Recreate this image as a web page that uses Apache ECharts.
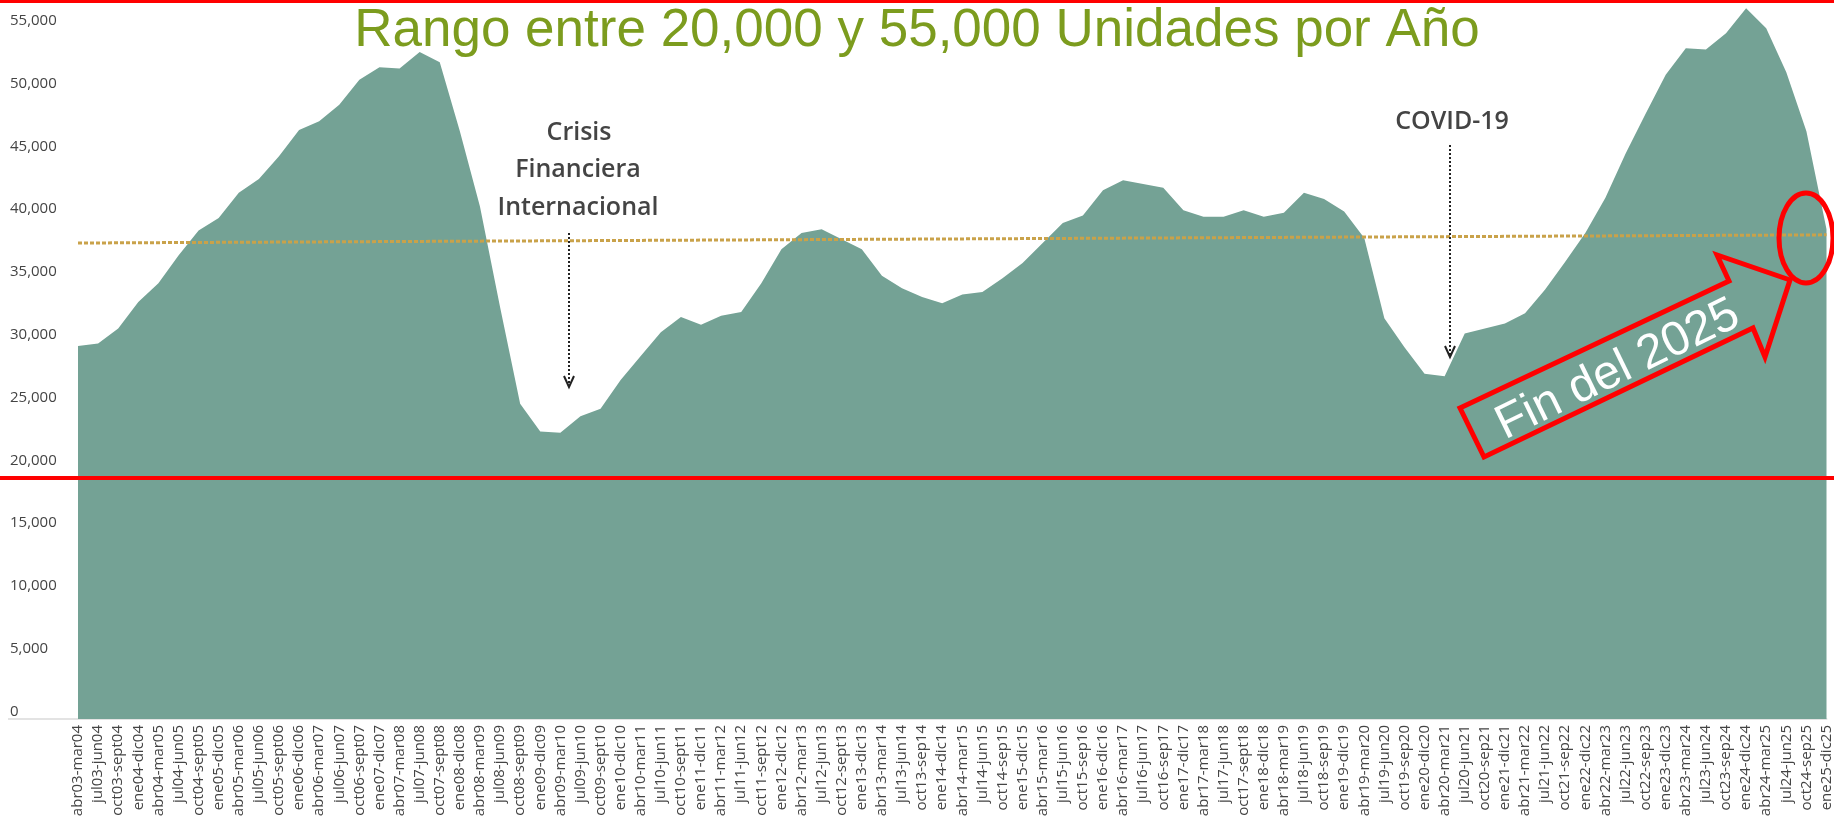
<!DOCTYPE html>
<html>
<head>
<meta charset="utf-8">
<script src="https://cdn.jsdelivr.net/npm/echarts@6/dist/echarts.min.js"></script>
<style>
  html, body { margin: 0; padding: 0; background: #fff; }
  .chart { width: 1834px; height: 829px; }
</style>
</head>
<body>
<div class="chart"></div>
<script>
// periodos móviles de 12 meses (uno por trimestre)
const categories = [
  'abr03-mar04', 'jul03-jun04', 'oct03-sept04', 'ene04-dic04',
  'abr04-mar05', 'jul04-jun05', 'oct04-sept05', 'ene05-dic05',
  'abr05-mar06', 'jul05-jun06', 'oct05-sept06', 'ene06-dic06',
  'abr06-mar07', 'jul06-jun07', 'oct06-sept07', 'ene07-dic07',
  'abr07-mar08', 'jul07-jun08', 'oct07-sept08', 'ene08-dic08',
  'abr08-mar09', 'jul08-jun09', 'oct08-sept09', 'ene09-dic09',
  'abr09-mar10', 'jul09-jun10', 'oct09-sept10', 'ene10-dic10',
  'abr10-mar11', 'jul10-jun11', 'oct10-sept11', 'ene11-dic11',
  'abr11-mar12', 'jul11-jun12', 'oct11-sept12', 'ene12-dic12',
  'abr12-mar13', 'jul12-jun13', 'oct12-sept13', 'ene13-dic13',
  'abr13-mar14', 'jul13-jun14', 'oct13-sep14', 'ene14-dic14',
  'abr14-mar15', 'jul14-jun15', 'oct14-sep15', 'ene15-dic15',
  'abr15-mar16', 'jul15-jun16', 'oct15-sep16', 'ene16-dic16',
  'abr16-mar17', 'jul16-jun17', 'oct16-sep17', 'ene17-dic17',
  'abr17-mar18', 'jul17-jun18', 'oct17-sept18', 'ene18-dic18',
  'abr18-mar19', 'jul18-jun19', 'oct18-sep19', 'ene19-dic19',
  'abr19-mar20', 'jul19-jun20', 'oct19-sep20', 'ene20-dic20',
  'abr20-mar21', 'jul20-jun21', 'oct20-sep21', 'ene21-dic21',
  'abr21-mar22', 'jul21-jun22', 'oct21-sep22', 'ene22-dic22',
  'abr22-mar23', 'jul22-jun23', 'oct22-sep23', 'ene23-dic23',
  'abr23-mar24', 'jul23-jun24', 'oct23-sep24', 'ene24-dic24',
  'abr24-mar25', 'jul24-jun25', 'oct24-sep25', 'ene25-dic25'
];

// unidades vendidas en los últimos 12 meses
const units = [
  29700, 29900, 31100, 33200, 34700, 36900, 38900, 39900,
  41900, 43000, 44800, 46900, 47600, 48900, 50900, 51900,
  51800, 53100, 52300, 46800, 40800, 32800, 25100, 22900,
  22800, 24100, 24700, 27000, 28900, 30800, 32000, 31400,
  32100, 32400, 34700, 37400, 38700, 39000, 38200, 37400,
  35300, 34300, 33600, 33100, 33800, 34000, 35100, 36300,
  37900, 39500, 40100, 42100, 42900, 42600, 42300, 40500,
  40000, 40000, 40500, 40000, 40300, 41900, 41400, 40400,
  38300, 31900, 29600, 27500, 27300, 30700, 31100, 31500,
  32300, 34200, 36400, 38700, 41500, 45000, 48200, 51300,
  53400, 53300, 54600, 56600, 55000, 51500, 46800, 39000
];

// línea de tendencia (inicio y fin)
const trendLine = [37900, 38550];

// eje Y
const yMin = 0;
const yMax = 57250;
const yInterval = 5000;

(function () {
    let myChart = echarts.init(document.querySelector('.chart'));
    const DEG = Math.PI / 180;
    const noteFont = '600 25px "Open Sans"';

    let option = {
        animation: false,
        grid: {
            left: 78,
            right: 3,
            top: 0,
            bottom: 110
        },
        xAxis: {
            type: 'category',
            data: categories,
            boundaryGap: false,
            axisTick: { show: false },
            axisLine: {
                lineStyle: { color: '#e3e3e3', width: 2 }
            },
            axisLabel: {
                interval: 0,
                rotate: 90,
                margin: 6,
                color: '#444',
                fontFamily: 'Open Sans',
                fontWeight: 500,
                fontSize: 15
            }
        },
        yAxis: {
            type: 'value',
            min: yMin,
            max: yMax,
            interval: yInterval,
            splitLine: { show: false },
            axisLine: { show: false },
            axisTick: { show: false },
            axisLabel: {
                showMaxLabel: false,
                align: 'left',
                verticalAlign: 'bottom',
                margin: 68,
                color: '#444',
                fontFamily: 'Open Sans',
                fontWeight: 500,
                fontSize: 15,
                formatter: function (v) {
                    return v.toLocaleString('en-US');
                }
            }
        },
        series: [{
            type: 'line',
            data: units,
            showSymbol: false,
            lineStyle: { width: 0 },
            areaStyle: { color: '#74a295', opacity: 1 },
            markLine: {
                silent: true,
                symbol: 'none',
                label: { show: false },
                lineStyle: {
                    color: '#c9a24a',
                    width: 3,
                    type: [4, 2]
                },
                data: [[
                    { coord: [0, trendLine[0]] },
                    { coord: [categories.length - 1, trendLine[1]] }
                ]]
            }
        }],
        graphic: [
            // título
            {
                type: 'text', z: 20,
                style: {
                    text: 'Rango entre 20,000 y 55,000 Unidades por Año',
                    x: 917, y: 31,
                    font: '53px "Liberation Sans"',
                    fill: '#7c9c1e',
                    textAlign: 'center', textVerticalAlign: 'middle',
                    align: 'center', verticalAlign: 'middle'
                }
            },
            // líneas rojas
            { type: 'rect', z: 20, shape: { x: 0, y: 0, width: 1834, height: 3 }, style: { fill: '#ff0000' } },
            { type: 'rect', z: 20, shape: { x: 0, y: 476, width: 1834, height: 4 }, style: { fill: '#ff0000' } },
            // extensión del eje
            { type: 'rect', z: 20, shape: { x: 8, y: 718, width: 70, height: 2 }, style: { fill: '#e3e3e3' } },
            // Crisis Financiera Internacional
            {
                type: 'text', z: 20,
                style: {
                    text: 'Crisis', x: 579, y: 133, font: noteFont, fill: '#444',
                    textAlign: 'center', textVerticalAlign: 'middle', align: 'center', verticalAlign: 'middle'
                }
            },
            {
                type: 'text', z: 20,
                style: {
                    text: 'Financiera', x: 578, y: 170, font: noteFont, fill: '#444',
                    textAlign: 'center', textVerticalAlign: 'middle', align: 'center', verticalAlign: 'middle'
                }
            },
            {
                type: 'text', z: 20,
                style: {
                    text: 'Internacional', x: 578, y: 208, font: noteFont, fill: '#444',
                    textAlign: 'center', textVerticalAlign: 'middle', align: 'center', verticalAlign: 'middle'
                }
            },
            {
                type: 'line', z: 20,
                shape: { x1: 569, y1: 233, x2: 569, y2: 386 },
                style: { stroke: '#222', lineWidth: 2, lineDash: [2, 2] }
            },
            {
                type: 'polyline', z: 20,
                shape: { points: [[564, 376], [569, 387], [574, 376]] },
                style: { stroke: '#222', lineWidth: 2, fill: null }
            },
            // COVID-19
            {
                type: 'text', z: 20,
                style: {
                    text: 'COVID-19', x: 1452, y: 122, font: noteFont, fill: '#444',
                    textAlign: 'center', textVerticalAlign: 'middle', align: 'center', verticalAlign: 'middle'
                }
            },
            {
                type: 'line', z: 20,
                shape: { x1: 1450, y1: 145, x2: 1450, y2: 356 },
                style: { stroke: '#222', lineWidth: 2, lineDash: [2, 2] }
            },
            {
                type: 'polyline', z: 20,
                shape: { points: [[1445, 346], [1450, 357], [1455, 346]] },
                style: { stroke: '#222', lineWidth: 2, fill: null }
            },
            // flecha "Fin del 2025"
            {
                type: 'polygon', z: 20,
                shape: {
                    points: [[1460, 408], [1729, 281], [1717, 255], [1790, 280],
                             [1765, 357], [1753, 328], [1484, 457]]
                },
                style: { stroke: '#ff0000', lineWidth: 5, fill: null, lineJoin: 'miter' }
            },
            {
                type: 'text', z: 21,
                x: 1618, y: 370,
                rotation: 26 * DEG,
                style: {
                    text: 'Fin del 2025', x: 0, y: 0,
                    font: '48px "Liberation Sans"', fill: '#ffffff',
                    textAlign: 'center', textVerticalAlign: 'middle', align: 'center', verticalAlign: 'middle'
                }
            },
            {
                type: 'ellipse', z: 20,
                shape: { cx: 1806, cy: 238, rx: 27, ry: 45 },
                style: { stroke: '#ff0000', lineWidth: 5, fill: null }
            }
        ]
    };

    myChart.setOption(option);
    window.addEventListener('resize', function () {
        myChart.resize();
    });
})();
</script>
</body>
</html>
